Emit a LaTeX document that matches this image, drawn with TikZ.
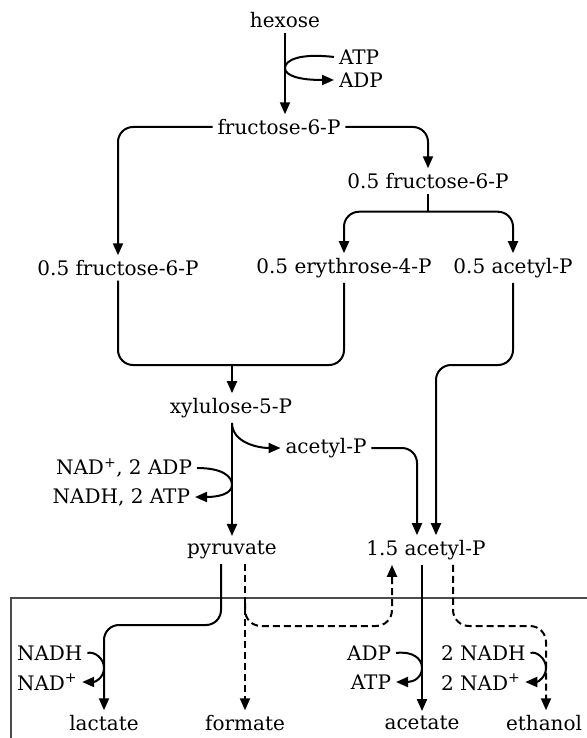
\documentclass[tikz,border=0pt]{standalone}
\usepackage{fontspec}
\setmainfont{DejaVu Serif}
\usetikzlibrary{arrows.meta,calc}
\begin{document}
\begin{tikzpicture}[x=1pt,y=-1pt,
  lbl/.style={inner sep=3pt,outer sep=2pt,font=\fontsize{20}{23}\selectfont},
  ln/.style={line width=2pt},
  arr/.style={ln,-{Triangle[length=12pt,width=10pt]}},
  dsh/.style={dash pattern=on 7pt off 4pt},
  rc/.style={rounded corners=15pt}]
\useasboundingbox (0,0) rectangle (586,738);
\fill[white] (0,0) rectangle (586,738);
% box
\draw[line width=2.4pt,black!70] (11,598) rectangle (620,780);
% nodes
\node[lbl] (hex) at (285,20) {hexose};
\node[lbl,anchor=west] (atp1) at (334,57) {ATP};
\node[lbl,anchor=west] (adp1) at (334,80) {ADP};
\node[lbl] (f6p) at (279,127) {fructose-6-P};
\node[lbl] (f6pR) at (428,181) {0.5 fructose-6-P};
\node[lbl] (f6pL) at (118,268) {0.5 fructose-6-P};
\node[lbl] (e4p) at (344,268) {0.5 erythrose-4-P};
\node[lbl] (acpA) at (513,268) {0.5 acetyl-P};
\node[lbl] (x5p) at (231,408) {xylulose-5-P};
\node[lbl] (acp) at (326,448) {acetyl-P};
\node[lbl,anchor=east] (nadadp) at (197,468) {NAD\textsuperscript{+}, 2 ADP};
\node[lbl,anchor=east] (nadhatp) at (195,497) {NADH, 2 ATP};
\node[lbl] (pyr) at (232,550) {pyruvate};
\node[lbl] (acp15) at (426,550) {1.5 acetyl-P};
\node[lbl,anchor=west] (nadh1) at (12,653) {NADH};
\node[lbl,anchor=west] (nad1) at (12,682) {NAD\textsuperscript{+}};
\node[lbl] (lac) at (104,723) {lactate};
\node[lbl] (form) at (245,723) {formate};
\node[lbl,anchor=east] (adp2) at (396,653) {ADP};
\node[lbl,anchor=east] (atp2) at (396,682) {ATP};
\node[lbl] (acet) at (422,723) {acetate};
\node[lbl,anchor=west] (nadh2) at (436,653) {2 NADH};
\node[lbl,anchor=west] (nad2) at (436,682) {2 NAD\textsuperscript{+}};
\node[lbl] (eth) at (544,723) {ethanol};
% coordinates
\coordinate (c1) at (285,68);
\coordinate (fork) at ($(f6pR.south)+(0,18)$);
\coordinate (merge) at (232,365);
\coordinate (jog) at (436,365);
\coordinate (c2) at (232,485);
\coordinate (c3) at (104,668);
\coordinate (c4) at (422,668);
\coordinate (c5) at (546,668);
\coordinate (up) at ($(acp15.south)+(-34,0)$);
\coordinate (pyrs) at ($(pyr.south)+(-11,0)$);
\coordinate (pyrd) at ($(pyr.south)+(13,0)$);
\coordinate (acd) at ($(acp15.south)+(27,0)$);
\coordinate (acl) at ($(acp15.north)+(-9,0)$);
\coordinate (brk) at (245,603);
\coordinate (ethd) at ($(eth.north)+(2,0)$);
% upper connectors
\draw[arr] (hex.south) -- (hex.south |- f6p.north);
\draw[ln] (atp1.west) .. controls (300,53) and (285,60) .. (c1);
\draw[arr] (c1) .. controls (285,76) and (300,80) .. (adp1.west);
\draw[arr,rc] (f6p.west) -| (f6pL.north);
\draw[arr,rc] (f6p.east) -| (f6pR.north);
\draw[ln] (f6pR.south) -- (fork);
\draw[arr,rc] (fork) -| (e4p.north);
\draw[arr,rc] (fork) -| (acpA.north);
\draw[ln,rc] (f6pL.south) |- (merge) -| (e4p.south);
\draw[arr] (merge) -- (merge |- x5p.north);
\draw[arr,rc] (acpA.south) |- (jog) -- (jog |- acp15.north);
\draw[arr] (merge |- x5p.south) -- (merge |- pyr.north);
\draw[arr] (merge |- x5p.south) .. controls ($(merge |- x5p.south)+(0,20)$) and ($(acp.west)+(-22,0)$) .. (acp.west);
\draw[arr,rc] (acp.east) -| (acl);
\draw[ln] (nadadp.east) .. controls (222,468) and (232,476) .. (c2);
\draw[arr] (c2) .. controls (232,494) and (218,497) .. (nadhatp.east);
% lower connectors
\draw[arr,rc] (pyrs) |- (lac.north |- 0,625) -- (lac.north);
\draw[ln] (nadh1.east) .. controls (94,651) and (104,658) .. (c3);
\draw[arr] (c3) .. controls (104,677) and (96,682) .. (nad1.east);
\draw[arr,dsh] (pyrd) -- (form.north);
\draw[arr,dsh,rounded corners=16pt] (brk) |- (up |- 0,626) -- (up);
\draw[arr] (acet.north |- acp15.south) -- (acet.north);
\draw[ln] (adp2.east) .. controls (412,651) and (422,658) .. (c4);
\draw[arr] (c4) .. controls (422,677) and (414,682) .. (atp2.east);
\draw[arr,dsh,rounded corners=16pt] (acd) |- (ethd |- 0,626) -- (ethd);
\draw[ln] (nadh2.east) .. controls (536,651) and (546,658) .. (c5);
\draw[arr] (c5) .. controls (546,677) and (538,682) .. (nad2.east);
\end{tikzpicture}
\end{document}
